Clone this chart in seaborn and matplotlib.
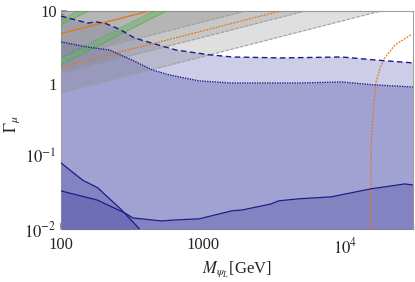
import numpy as np
import pandas as pd
import matplotlib
matplotlib.use('Agg')
import matplotlib.pyplot as plt
import seaborn as sns

# ---- data (M in GeV, Gamma_mu) ----
# upper blue dashed boundary
m_dashed = [100, 155, 173, 203, 259, 329, 440, 647, 1100, 1600, 3560, 9400, 16200, 30000]
g_dashed = [8.5, 6.8, 7.1, 6.8, 5.6, 4.25, 3.6, 2.9, 2.5, 2.33, 2.26, 2.33, 2.12, 1.93]

# blue dotted boundary
m_dotted = [100, 152, 220, 318, 440, 578, 940, 1600, 4700, 9400, 16200, 30000]
g_dotted = [3.75, 3.2, 2.9, 2.1, 1.54, 1.32, 1.09, 1.02, 1.02, 1.055, 0.96, 0.90]

# lower solid boundary (long)
m_low_a = [100, 180, 280, 320, 510, 630, 940, 1600, 1900, 3000, 3400, 4700, 8000, 15200, 26300, 30000]
g_low_a = [0.0334, 0.025, 0.0167, 0.0142, 0.0129, 0.0133, 0.0138, 0.0178, 0.0183,
           0.0221, 0.0244, 0.026, 0.0277, 0.0357, 0.0417, 0.0403]

# lower solid boundary (short, steep)
m_low_b = [100, 142, 181, 267, 357]
g_low_b = [0.081, 0.047, 0.037, 0.0183, 0.01]

# orange curve on the right
m_orange_curve = [15200, 15200, 15300, 15900, 16500, 17600, 19000, 22400, 29000]
g_orange_curve = [0.01, 0.05, 0.17, 0.5, 1.05, 1.64, 2.26, 3.4, 4.7]

# straight (power-law) lines, values at the two ends M = 100 and M = 30000
m_ends = [100, 30000]
g_gray_lines = [[0.748, 12.96], [1.38, 23.9], [2.24, 38.8]]
g_orange_solid = [4.89, 84.7]
g_orange_dot = [1.69, 29.3]
# green bands: (lower edge, upper edge)
g_green_bands = [([1.82, 545], [2.24, 672]), ([6.47, 1941], [7.6, 2280])]

x_ticks = [100, 1000, 10000]
x_ticklabels = ['100', '1000', '$10^4$']
y_ticks = [0.01, 0.1, 1, 10]
y_ticklabels = ['$10^{-2}$', '$10^{-1}$', '1', '10']

# ---- style ----
sns.set_theme(style='ticks')
plt.rcParams['font.family'] = ['Liberation Serif', 'DejaVu Serif']
plt.rcParams['mathtext.fontset'] = 'stix'

fig = plt.figure(figsize=(4.15, 2.82), dpi=100)
ax = fig.add_axes([0.147, 0.188, 0.848, 0.773])
ax.set_xscale('log')
ax.set_yscale('log')

top = 1e3
bottom = 1e-3

# lavender regions
ax.fill_between(m_dashed, bottom, g_dashed, color='#cdcde7', lw=0, zorder=1)
ax.fill_between(m_dotted, bottom, g_dotted, color='#a2a2d2', lw=0, zorder=2)
ax.fill_between(m_low_a, bottom, g_low_a, color='#4545a0', alpha=0.33, lw=0, zorder=3)
ax.fill_between(m_low_b, bottom, g_low_b, color='#4545a0', alpha=0.33, lw=0, zorder=3)

# gray excluded regions (above each line)
for g in g_gray_lines:
    ax.fill_between(m_ends, g, top, color='#808080', alpha=0.25, lw=0, zorder=4)
    ax.plot(m_ends, g, color='#a0a0a0', lw=0.8, ls=(0, (3, 1.5)), zorder=5)

# green bands
for lo, hi in g_green_bands:
    ax.fill_between(m_ends, lo, hi, color='#5cb85c', alpha=0.45, lw=0, zorder=6)
    ax.plot(m_ends, lo, color='#3a9a3a', lw=0.7, ls=':', zorder=6)
    ax.plot(m_ends, hi, color='#3a9a3a', lw=0.7, ls=':', zorder=6)

# orange lines
orange = '#e07a1c'
ax.plot(m_ends, g_orange_solid, color=orange, lw=1.0, zorder=7)
ax.plot(m_ends, g_orange_dot, color=orange, lw=0.9, ls=(0, (1.5, 1)), zorder=7)
ax.plot(m_orange_curve, g_orange_curve, color=orange, lw=0.9, ls=(0, (1.5, 1)), zorder=7)

# blue boundaries
blue = '#1c1c8a'
sns.lineplot(x=m_dashed, y=g_dashed, sort=False, ax=ax, color=blue, lw=1.0,
             ls=(0, (4, 2.5)), zorder=8)
sns.lineplot(x=m_dotted, y=g_dotted, sort=False, ax=ax, color=blue, lw=1.0,
             ls=(0, (1, 0.8)), zorder=8)
sns.lineplot(x=m_low_a, y=g_low_a, sort=False, ax=ax, color=blue, lw=0.9, zorder=8)
sns.lineplot(x=m_low_b, y=g_low_b, sort=False, ax=ax, color=blue, lw=0.9, zorder=8)

ax.set_xlim(100, 30000)
ax.set_ylim(0.01, 10)
ax.set_xticks(x_ticks)
ax.set_xticklabels(x_ticklabels)
ax.set_yticks(y_ticks)
ax.set_yticklabels(y_ticklabels)
ax.tick_params(which='both', direction='in', color='#888888', labelsize=12,
               top=False, right=False)
ax.tick_params(which='major', length=4)
ax.tick_params(which='minor', length=2)
ax.tick_params(axis='x', pad=6)
ax.tick_params(axis='y', pad=3)
for s in ax.spines.values():
    s.set_color('#a0a0a0')
    s.set_linewidth(0.8)

ax.set_xlabel(r'$M_{\psi_L}$[GeV]', fontsize=12)
ax.set_ylabel(r'$\Gamma_\mu$', fontsize=12)
ax.xaxis.set_label_coords(0.5, -0.14)
ax.yaxis.set_label_coords(-0.11, 0.48)

fig.savefig('out.png', dpi=100)
